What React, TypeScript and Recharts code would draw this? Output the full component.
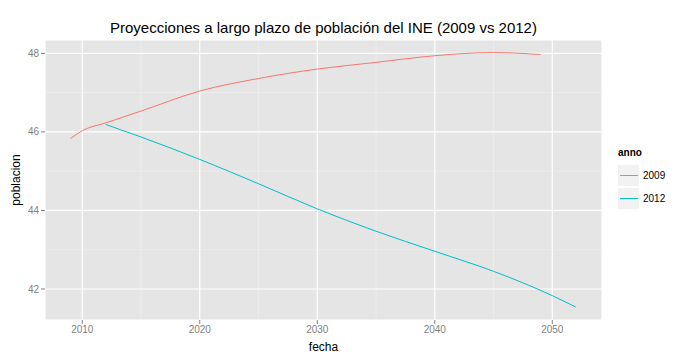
import React from 'react';
import { LineChart, Line, XAxis, YAxis, CartesianGrid, ReferenceLine } from 'recharts';

// INE projections (millions)
const years2009 = [2009, 2010, 2012, 2015, 2020, 2025, 2030, 2035, 2040, 2045, 2049];
const pob2009 = [45.83, 46.03, 46.23, 46.53, 47.04, 47.36, 47.6, 47.77, 47.94, 48.02, 47.97];
const years2012 = [2012, 2015, 2020, 2025, 2030, 2035, 2040, 2045, 2050, 2052];
const pob2012 = [46.19, 45.87, 45.3, 44.68, 44.04, 43.47, 42.96, 42.45, 41.83, 41.54];

const xTicks = [2010, 2020, 2030, 2040, 2050];
const yTicks = [42, 44, 46, 48];
const xMinor = [2015, 2025, 2035, 2045];
const yMinor = [43, 45, 47];

const series = [
  { name: '2009', color: '#F8766D', data: years2009.map((f, i) => ({ fecha: f, poblacion: pob2009[i] })) },
  { name: '2012', color: '#00BFC4', data: years2012.map((f, i) => ({ fecha: f, poblacion: pob2012[i] })) },
];

const FONT = '"Liberation Sans", Arial, sans-serif';

function AnnoLegend() {
  return (
    <div style={{ position: 'absolute', left: 618, top: 147, fontFamily: FONT, fontSize: 10, color: '#000' }}>
      <div style={{ fontWeight: 'bold', height: 17 }}>anno</div>
      {series.map((s) => (
        <div key={s.name} style={{ display: 'flex', alignItems: 'center', height: 23 }}>
          <div style={{ width: 21, height: 21, background: '#f2f2f2', display: 'flex', alignItems: 'center', justifyContent: 'center' }}>
            <div style={{ width: 18, height: 1, background: s.color }} />
          </div>
          <span style={{ marginLeft: 4 }}>{s.name}</span>
        </div>
      ))}
    </div>
  );
}

export default function App() {
  return (
    <div style={{ position: 'absolute', left: 0, top: 0, width: 700, height: 362, background: '#fff', fontFamily: FONT }}>
      <div style={{ position: 'absolute', left: 45, width: 557, top: 19, textAlign: 'center', fontSize: 15, color: '#000' }}>
        Proyecciones a largo plazo de población del INE (2009 vs 2012)
      </div>
      <LineChart width={700} height={362} margin={{ top: 40, right: 98, left: 0, bottom: 0 }}>
        <CartesianGrid fill="#e5e5e5" stroke="#ffffff" strokeWidth={1.2} horizontal vertical />
        {xMinor.map((v) => (
          <ReferenceLine key={'x' + v} x={v} stroke="#f2f2f2" strokeWidth={0.6} />
        ))}
        {yMinor.map((v) => (
          <ReferenceLine key={'y' + v} y={v} stroke="#f2f2f2" strokeWidth={0.6} />
        ))}
        <XAxis
          type="number"
          dataKey="fecha"
          domain={[2006.83, 2054.23]}
          ticks={xTicks}
          allowDataOverflow
          height={42}
          axisLine={false}
          tickSize={4}
          tickLine={{ stroke: '#7f7f7f' }}
          tick={{ fill: '#7f7f7f', fontSize: 10, fontFamily: FONT }}
          label={{ value: 'fecha', position: 'insideBottom', offset: 11, fill: '#000', fontSize: 12, fontFamily: FONT }}
        />
        <YAxis
          type="number"
          domain={[41.21, 48.34]}
          ticks={yTicks}
          allowDataOverflow
          width={45}
          axisLine={false}
          tickSize={4}
          tickLine={{ stroke: '#7f7f7f' }}
          tick={{ fill: '#7f7f7f', fontSize: 10, fontFamily: FONT }}
          label={{ value: 'poblacion', angle: -90, position: 'insideLeft', offset: 16, fill: '#000', fontSize: 12, fontFamily: FONT, style: { textAnchor: 'middle' } }}
        />
        {series.map((s) => (
          <Line
            key={s.name}
            data={s.data}
            dataKey="poblacion"
            name={s.name}
            type="monotone"
            stroke={s.color}
            strokeWidth={1}
            dot={false}
            activeDot={false}
            isAnimationActive={false}
          />
        ))}
      </LineChart>
      <AnnoLegend />
    </div>
  );
}
